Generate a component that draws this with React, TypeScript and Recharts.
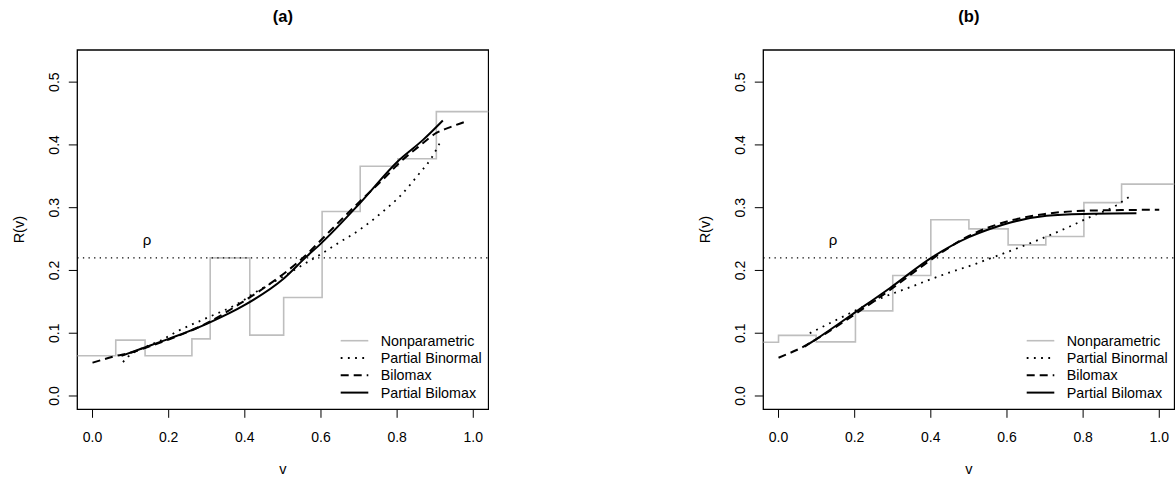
import { LineChart, Line, XAxis, YAxis, ReferenceLine, ReferenceArea, ReferenceDot, Legend } from 'recharts'

const FONT = '"Liberation Sans", Arial, Helvetica, sans-serif'

const X_TICKS = [0, 0.2, 0.4, 0.6, 0.8, 1.0]
const Y_TICKS = [0, 0.1, 0.2, 0.3, 0.4, 0.5]
const X_DOMAIN: [number, number] = [-0.04, 1.04]
const Y_DOMAIN: [number, number] = [-0.0212, 0.5512]
const RHO = 0.22
const RHO_LABEL_V = 0.143
const RHO_LABEL_R = 0.24

const SERIES = ['Nonparametric', 'Partial Binormal', 'Bilomax', 'Partial Bilomax']

// panel (a)
const A_NP_V = [-0.04, 0.061, 0.138, 0.261, 0.309, 0.413, 0.502, 0.603, 0.703, 0.802, 0.903, 1.04]
const A_NP_R = [0.064, 0.089, 0.064, 0.091, 0.22, 0.097, 0.157, 0.294, 0.366, 0.378, 0.453, 0.453]
const A_PBN_V = [0.08, 0.094, 0.12, 0.15, 0.177, 0.229, 0.299, 0.387, 0.43, 0.5, 0.544, 0.597, 0.645, 0.702, 0.763, 0.807, 0.859, 0.89, 0.912]
const A_PBN_R = [0.054, 0.063, 0.073, 0.081, 0.088, 0.105, 0.124, 0.149, 0.166, 0.19, 0.206, 0.225, 0.2435, 0.265, 0.294, 0.318, 0.355, 0.379, 0.403]
const A_BL_V = [0, 0.063, 0.1, 0.15, 0.2, 0.3, 0.387, 0.457, 0.509, 0.57, 0.601, 0.702, 0.763, 0.807, 0.86, 0.903, 0.938, 0.982]
const A_BL_R = [0.053, 0.064, 0.069, 0.079, 0.09, 0.116, 0.147, 0.175, 0.198, 0.23, 0.249, 0.31, 0.345, 0.372, 0.399, 0.419, 0.428, 0.4375]
const A_PBL_V = [0.076, 0.124, 0.2, 0.3, 0.4, 0.5, 0.562, 0.601, 0.702, 0.802, 0.868, 0.92]
const A_PBL_R = [0.064, 0.0745, 0.091, 0.115, 0.145, 0.186, 0.222, 0.2435, 0.307, 0.374, 0.408, 0.439]

// panel (b)
const B_NP_V = [-0.04, 0.0, 0.099, 0.202, 0.3, 0.4, 0.5, 0.603, 0.702, 0.802, 0.901, 1.04]
const B_NP_R = [0.0856, 0.0965, 0.0862, 0.1356, 0.192, 0.2807, 0.2663, 0.2408, 0.254, 0.308, 0.3376, 0.3376]
const B_PBN_V = [0.082, 0.178, 0.266, 0.353, 0.4, 0.441, 0.52, 0.546, 0.634, 0.704, 0.765, 0.818, 0.888, 0.927]
const B_PBN_R = [0.1, 0.129, 0.155, 0.175, 0.186, 0.195, 0.211, 0.217, 0.237, 0.254, 0.27, 0.285, 0.304, 0.32]
const B_BL_V = [0, 0.073, 0.117, 0.2, 0.3, 0.388, 0.5, 0.6, 0.7, 0.8, 0.9, 1.0]
const B_BL_R = [0.061, 0.081, 0.097, 0.13, 0.172, 0.2116, 0.255, 0.278, 0.29, 0.295, 0.2962, 0.2967]
const B_PBL_V = [0.068, 0.1, 0.204, 0.292, 0.406, 0.5, 0.555, 0.607, 0.704, 0.8, 0.94]
const B_PBL_R = [0.0786, 0.091, 0.1345, 0.1717, 0.222, 0.253, 0.266, 0.276, 0.287, 0.29, 0.291]

const STYLE: Record<string, { stroke: string; width: number; dash?: string; type: 'stepAfter' | 'monotone' }> = {
  Nonparametric: { stroke: '#bebebe', width: 1.6, type: 'stepAfter' },
  'Partial Binormal': { stroke: '#000', width: 1.8, dash: '1.8 5.4', type: 'monotone' },
  Bilomax: { stroke: '#000', width: 2, dash: '8 5', type: 'monotone' },
  'Partial Bilomax': { stroke: '#000', width: 2, type: 'monotone' },
}

const zip = (v: number[], r: number[]) => v.map((x, i) => ({ v: x, r: r[i] }))

const PLOT_LEFT = 77.3
const PLOT_TOP = 50
const PLOT_BOTTOM = 409.3
const CHART_W = 489
const CHART_H = 480
const TICK = 8.5

const XTick = ({ x, y, payload }: any) => (
  <text x={x} y={y} dy={24} textAnchor="middle" fontSize={14} fontFamily={FONT} fill="#000">
    {Number(payload.value).toFixed(1)}
  </text>
)

const YTick = ({ x, y, payload }: any) => (
  <text
    x={x - 9.5}
    y={y}
    transform={`rotate(-90, ${x - 9.5}, ${y})`}
    textAnchor="middle"
    fontSize={14}
    fontFamily={FONT}
    fill="#000"
  >
    {Number(payload.value).toFixed(1)}
  </text>
)

const renderLegend = () => (
  <svg width={170} height={75} style={{ display: 'block' }}>
    {SERIES.map((name, i) => {
      const s = STYLE[name]
      const cy = 10.7 + i * 17.3
      return (
        <g key={name}>
          <line x1={5.7} x2={33.3} y1={cy} y2={cy} stroke={s.stroke} strokeWidth={s.width} strokeDasharray={s.dash} />
          <text x={45.7} y={cy + 5} fontSize={14.3} fontFamily={FONT} fill="#000">{name}</text>
        </g>
      )
    })}
  </svg>
)

function Panel({ title, left, data }: { title: string; left: number; data: { v: number; r: number }[][] }) {
  const plotRight = CHART_W - 0.5
  return (
    <div style={{ position: 'absolute', left, top: 0, width: CHART_W, height: CHART_H }}>
      <LineChart
        width={CHART_W}
        height={CHART_H}
        margin={{ top: PLOT_TOP, right: CHART_W - plotRight, bottom: 0, left: 0 }}
        style={{ fontFamily: FONT }}
      >
        <XAxis
          dataKey="v"
          type="number"
          domain={X_DOMAIN}
          allowDataOverflow
          ticks={X_TICKS}
          interval={0}
          height={CHART_H - PLOT_BOTTOM}
          axisLine={false}
          tickLine={{ stroke: '#000', strokeWidth: 1 }}
          tickSize={TICK}
          tickMargin={0}
          tick={<XTick />}
          label={{
            content: ({ viewBox }: any) => (
              <text x={viewBox.x + viewBox.width / 2} y={474} textAnchor="middle" fontSize={14.5} fontFamily={FONT} fill="#000">
                v
              </text>
            ),
          }}
        />
        <YAxis
          dataKey="r"
          type="number"
          domain={Y_DOMAIN}
          allowDataOverflow
          ticks={Y_TICKS}
          interval={0}
          width={PLOT_LEFT}
          axisLine={false}
          tickLine={{ stroke: '#000', strokeWidth: 1 }}
          tickSize={TICK}
          tickMargin={0}
          tick={<YTick />}
          label={{
            content: ({ viewBox }: any) => {
              const cy = viewBox.y + viewBox.height / 2
              return (
                <text x={24} y={cy} transform={`rotate(-90, 24, ${cy})`} textAnchor="middle" fontSize={14.5} fontFamily={FONT} fill="#000">
                  R(v)
                </text>
              )
            },
          }}
        />
        {SERIES.map((name, i) => {
          const s = STYLE[name]
          return (
            <Line
              key={name}
              name={name}
              data={data[i]}
              dataKey="r"
              type={s.type}
              stroke={s.stroke}
              strokeWidth={s.width}
              strokeDasharray={s.dash}
              dot={false}
              activeDot={false}
              isAnimationActive={false}
            />
          )
        })}
        <ReferenceLine y={RHO} stroke="#000" strokeWidth={1.3} strokeDasharray="1.3 4.3" />
        <ReferenceDot
          x={RHO_LABEL_V}
          y={RHO_LABEL_R}
          r={1}
          fill="none"
          stroke="none"
          label={{
            content: ({ viewBox }: any) => (
              <text x={viewBox.x + viewBox.width / 2} y={viewBox.y + viewBox.height / 2} textAnchor="middle" fontSize={15} fontFamily={FONT} fill="#000">
                ρ
              </text>
            ),
          }}
        />
        <ReferenceArea x1={X_DOMAIN[0]} x2={X_DOMAIN[1]} y1={Y_DOMAIN[0]} y2={Y_DOMAIN[1]} fill="none" stroke="#000" strokeWidth={1.3} ifOverflow="visible" />
        <Legend
          layout="vertical"
          align="center"
          verticalAlign="middle"
          content={renderLegend}
          wrapperStyle={{ position: 'absolute', left: 335, top: 330, width: 170, height: 75 }}
        />
      </LineChart>
      <svg width={CHART_W} height={30} style={{ position: 'absolute', left: 0, top: 0, pointerEvents: 'none' }}>
        <text x={(PLOT_LEFT + plotRight) / 2} y={22} textAnchor="middle" fontSize={16.5} fontWeight="bold" fontFamily={FONT} fill="#000">
          {title}
        </text>
      </svg>
    </div>
  )
}

const A_DATA = [zip(A_NP_V, A_NP_R), zip(A_PBN_V, A_PBN_R), zip(A_BL_V, A_BL_R), zip(A_PBL_V, A_PBL_R)]
const B_DATA = [zip(B_NP_V, B_NP_R), zip(B_PBN_V, B_PBN_R), zip(B_BL_V, B_BL_R), zip(B_PBL_V, B_PBL_R)]

export default function App() {
  return (
    <div style={{ position: 'fixed', left: 0, top: 0, width: 1175, height: 480, background: '#fff', fontFamily: FONT }}>
      <Panel title="(a)" left={0} data={A_DATA} />
      <Panel title="(b)" left={686} data={B_DATA} />
    </div>
  )
}
